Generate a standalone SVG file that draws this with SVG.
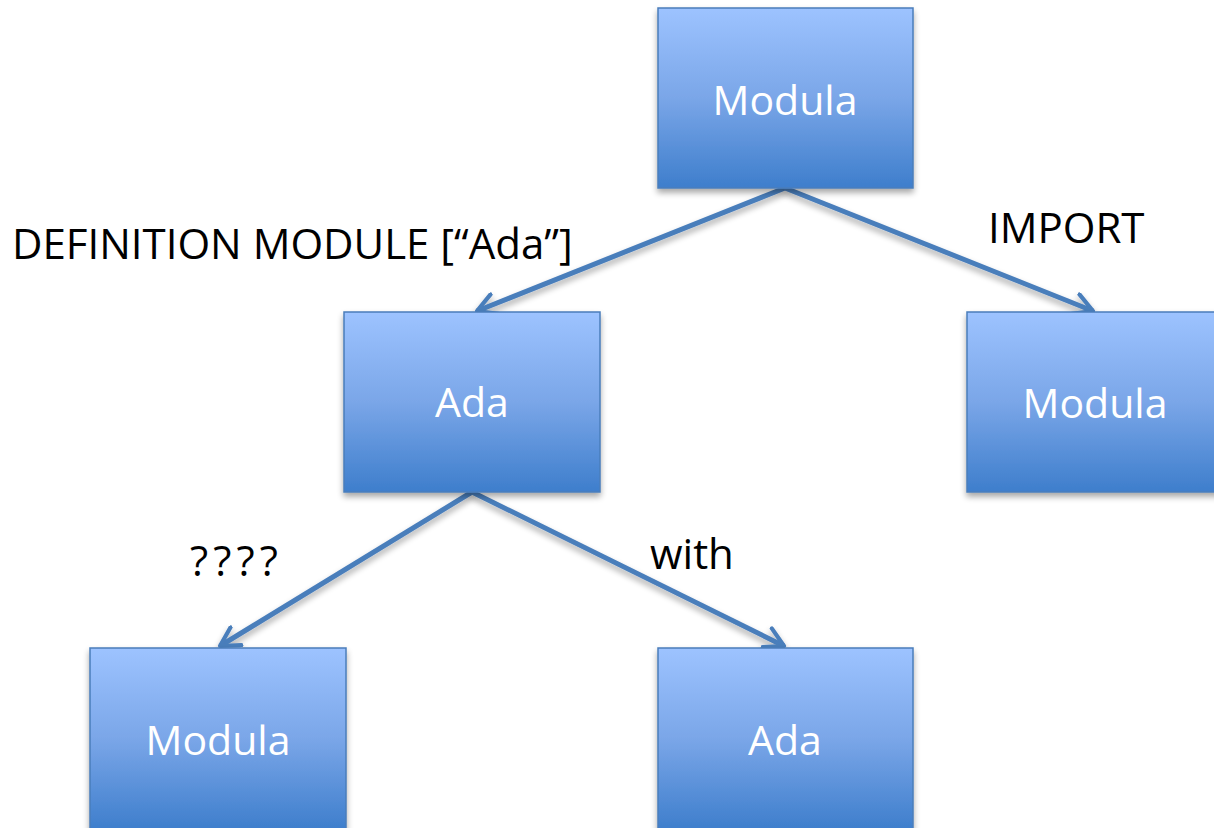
<svg xmlns="http://www.w3.org/2000/svg" width="1214" height="828" viewBox="0 0 1214 828">
  <style>
    .box { fill: url(#boxFill); stroke: #4a7ebb; stroke-width: 1.5; filter: url(#shadow); }
    .boxText { font-family: "Open Sans", "Noto Sans", sans-serif; font-size: 41px; fill: #ffffff; text-anchor: middle; }
    .label { font-family: "Open Sans", "Noto Sans", sans-serif; font-size: 42px; fill: #000000; }
    .edge { fill: none; stroke: #4a7ebb; stroke-width: 5; marker-end: url(#arrow); filter: url(#shadow); }
  </style>
  <defs>
    <linearGradient id="boxFill" x1="0" y1="0" x2="0" y2="1">
      <stop offset="0" stop-color="#9dc3ff"/>
      <stop offset="0.5" stop-color="#7aa6e8"/>
      <stop offset="1" stop-color="#3e7ecc"/>
    </linearGradient>
    <filter id="shadow" x="-10%" y="-10%" width="125%" height="130%">
      <feGaussianBlur in="SourceAlpha" stdDeviation="3"/>
      <feOffset dx="0" dy="4" result="b"/>
      <feComponentTransfer><feFuncA type="linear" slope="0.35"/></feComponentTransfer>
      <feMerge><feMergeNode/><feMergeNode in="SourceGraphic"/></feMerge>
    </filter>
    <marker id="arrow" viewBox="0 0 12 12" refX="10" refY="6" markerWidth="5" markerHeight="5" orient="auto" markerUnits="strokeWidth">
      <path d="M1,1 L10,6 L1,11" fill="none" stroke="#4a7ebb" stroke-width="2" stroke-linecap="round" stroke-linejoin="round"/>
    </marker>
  </defs>

  <g id="connectors">
    <line class="edge" x1="785" y1="188" x2="477" y2="311"/>
    <line class="edge" x1="785" y1="188" x2="1093" y2="311"/>
    <line class="edge" x1="472" y1="492" x2="220" y2="646"/>
    <line class="edge" x1="472" y1="492" x2="784" y2="646"/>
  </g>

  <g id="node-modula-root">
    <rect class="box" x="658" y="8" width="255" height="180"/>
    <text class="boxText" x="785" y="115">Modula</text>
  </g>
  <g id="node-ada-def">
    <rect class="box" x="344" y="312" width="256" height="180"/>
    <text class="boxText" x="472" y="417">Ada</text>
  </g>
  <g id="node-modula-import">
    <rect class="box" x="967" y="312" width="256" height="180"/>
    <text class="boxText" x="1095" y="418">Modula</text>
  </g>
  <g id="node-modula-leaf">
    <rect class="box" x="90" y="648" width="256" height="182"/>
    <text class="boxText" x="218" y="755">Modula</text>
  </g>
  <g id="node-ada-leaf">
    <rect class="box" x="658" y="648" width="255" height="182"/>
    <text class="boxText" x="785" y="755">Ada</text>
  </g>

  <g id="labels">
    <text class="label" x="12" y="259">DEFINITION MODULE [“Ada”]</text>
    <text class="label" x="988" y="243">IMPORT</text>
    <text class="label" x="190" y="576" textLength="88" lengthAdjust="spacing">????</text>
    <text class="label" x="650" y="569">with</text>
  </g>
</svg>
